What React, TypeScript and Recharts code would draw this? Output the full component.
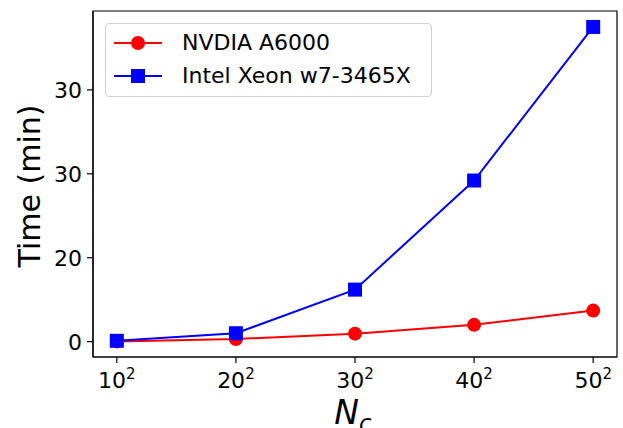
import React from 'react';
import { LineChart, Line, XAxis, YAxis, ReferenceArea } from 'recharts';

const xBases = ['10', '20', '30', '40', '50'];
const xPositions = [1, 2, 3, 4, 5];
const gpuTimes = [0.03, 0.32, 0.95, 2.0, 3.7];
const cpuTimes = [0.1, 1.0, 6.2, 19.2, 37.5];
const yTicks = [0, 10, 20, 30];
const yTickLabels = ['0', '20', '30', '30'];
const seriesNames = ['NVDIA A6000', 'Intel Xeon w7-3465X'];
const seriesColors = ['#ff0000', '#0000ff'];

const X_DOMAIN: [number, number] = [0.8, 5.2];
const Y_DOMAIN: [number, number] = [-1.83, 39.4];

const data = xPositions.map((x, i) => ({ x, gpu: gpuTimes[i], cpu: cpuTimes[i] }));

const FONT = 'DejaVu Sans';

const XTick = (props: any) => {
  const { x, y, payload } = props;
  const idx = xPositions.indexOf(payload.value);
  return (
    <text x={x} y={y + 23} textAnchor="middle" fontFamily={FONT} fontSize={22} fill="#000">
      <tspan>{xBases[idx]}</tspan>
      <tspan dy={-9} fontSize={15}>2</tspan>
    </text>
  );
};

const YTick = (props: any) => {
  const { x, y, payload } = props;
  const idx = yTicks.indexOf(payload.value);
  return (
    <text x={x} y={y} dy={8} textAnchor="end" fontFamily={FONT} fontSize={22} fill="#000">
      {yTickLabels[idx]}
    </text>
  );
};

const LegendBox = () => (
  <div
    style={{
      position: 'absolute',
      left: 105,
      top: 23,
      width: 327,
      height: 74,
      border: '1px solid #d0d0d0',
      borderRadius: 4,
      background: 'rgba(255,255,255,0.8)',
      boxSizing: 'border-box',
      fontFamily: FONT,
      fontSize: 22,
      color: '#000',
    }}
  >
    {seriesNames.map((name, i) => (
      <div key={name} style={{ position: 'absolute', left: 7, top: 5 + i * 33, height: 28, display: 'flex', alignItems: 'center' }}>
        <svg width={50} height={20} style={{ display: 'block' }}>
          <line x1={1} y1={10} x2={49} y2={10} stroke={seriesColors[i]} strokeWidth={2} />
          {i === 0 ? (
            <circle cx={25} cy={10} r={7} fill={seriesColors[i]} />
          ) : (
            <rect x={18} y={3} width={14} height={14} fill={seriesColors[i]} />
          )}
        </svg>
        <span style={{ marginLeft: 19, whiteSpace: 'nowrap', lineHeight: '28px' }}>{name}</span>
      </div>
    ))}
  </div>
);

const Square = (props: any) => {
  const { cx, cy } = props;
  if (cx == null || cy == null) return null;
  return <rect x={cx - 7} y={cy - 7} width={14} height={14} fill={seriesColors[1]} />;
};

const Dot = (props: any) => {
  const { cx, cy } = props;
  if (cx == null || cy == null) return null;
  return <circle cx={cx} cy={cy} r={7} fill={seriesColors[0]} />;
};

export default function App() {
  return (
    <div style={{ position: 'absolute', left: 0, top: 0, width: 623, height: 428, background: '#fff' }}>
      <LineChart width={623} height={428} data={data} margin={{ top: 11, right: 6, left: 0, bottom: 0 }}>
        <XAxis
          dataKey="x"
          type="number"
          domain={X_DOMAIN}
          ticks={xPositions}
          allowDataOverflow
          height={71}
          tick={<XTick />}
          tickSize={6}
          axisLine={{ stroke: '#000', strokeWidth: 1.2 }}
          tickLine={{ stroke: '#000', strokeWidth: 1.2 }}
          label={(p: any) => {
            const vb = p.viewBox || {};
            const cx = (vb.x ?? 93) + (vb.width ?? 524) / 2;
            return (
              <text x={cx - 2} y={424} textAnchor="middle" fontFamily={FONT} fontStyle="italic" fontSize={33} fill="#000">
                <tspan>N</tspan>
                <tspan dy={7} fontSize={23}>c</tspan>
              </text>
            );
          }}
        />
        <YAxis
          type="number"
          domain={Y_DOMAIN}
          allowDataOverflow
          ticks={yTicks}
          width={93}
          tick={<YTick />}
          tickSize={6}
          tickMargin={5}
          axisLine={{ stroke: '#000', strokeWidth: 1.2 }}
          tickLine={{ stroke: '#000', strokeWidth: 1.2 }}
          label={(p: any) => {
            const vb = p.viewBox || {};
            const cy = (vb.y ?? 11) + (vb.height ?? 346) / 2;
            return (
              <text
                x={29}
                y={cy + 2}
                transform={`rotate(-90, 29, ${cy + 2})`}
                textAnchor="middle"
                dominantBaseline="central"
                fontFamily={FONT}
                fontSize={30}
                fill="#000"
              >
                Time (min)
              </text>
            );
          }}
        />
        <ReferenceArea
          x1={X_DOMAIN[0]}
          x2={X_DOMAIN[1]}
          y1={Y_DOMAIN[0]}
          y2={Y_DOMAIN[1]}
          fill="none"
          fillOpacity={0}
          stroke="#000"
          strokeWidth={1.2}
          ifOverflow="visible"
        />
        <Line
          dataKey="gpu"
          name={seriesNames[0]}
          stroke={seriesColors[0]}
          strokeWidth={2}
          dot={<Dot />}
          activeDot={false}
          isAnimationActive={false}
        />
        <Line
          dataKey="cpu"
          name={seriesNames[1]}
          stroke={seriesColors[1]}
          strokeWidth={2}
          dot={<Square />}
          activeDot={false}
          isAnimationActive={false}
        />
      </LineChart>
      <LegendBox />
    </div>
  );
}
